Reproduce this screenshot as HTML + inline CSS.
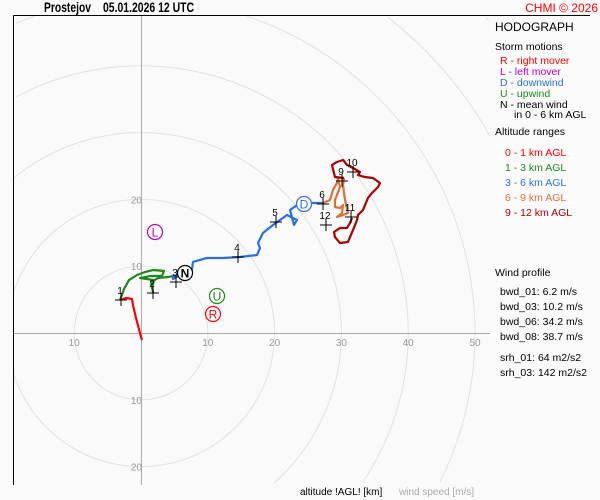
<!DOCTYPE html>
<html><head><meta charset="utf-8">
<style>
html,body{margin:0;padding:0;width:600px;height:500px;overflow:hidden;background:#fafafa;}
svg{display:block;font-family:"Liberation Sans",sans-serif;overflow:hidden;}
</style></head>
<body>
<svg id="c" width="600" height="500" viewBox="0 0 600 500">
<rect x="0" y="0" width="600" height="500" fill="#fafafa"/>
<g id="grid"></g>
<line x1="13.5" y1="15.5" x2="590" y2="15.5" stroke="#000"/>
<line x1="13.5" y1="15.5" x2="13.5" y2="485" stroke="#000"/>
<g id="plot"></g>
<text x="44" y="12" font-size="14" font-weight="bold" textLength="47" lengthAdjust="spacingAndGlyphs">Prostejov</text>
<text x="103" y="12" font-size="14" font-weight="bold" textLength="91" lengthAdjust="spacingAndGlyphs">05.01.2026 12 UTC</text>
<text x="598" y="12" font-size="12" fill="#f00" text-anchor="end">CHMI © 2026</text>
<g font-size="10.5">
<text x="495" y="31" font-size="12">HODOGRAPH</text>
<text x="495" y="50">Storm motions</text>
<text x="500" y="64" fill="#f00">R - right mover</text>
<text x="500" y="75" fill="#b0b">L - left mover</text>
<text x="500" y="86" fill="#2a6fe0">D - downwind</text>
<text x="500" y="97" fill="#1a8a1a">U - upwind</text>
<text x="500" y="108">N - mean wind</text>
<text x="514" y="118">in 0 - 6 km AGL</text>
<text x="495" y="135">Altitude ranges</text>
<text x="505" y="156" fill="#f00">0 - 1 km AGL</text>
<text x="505" y="171" fill="#1a8a1a">1 - 3 km AGL</text>
<text x="505" y="186" fill="#2a6fe0">3 - 6 km AGL</text>
<text x="505" y="201" fill="#d9703a">6 - 9 km AGL</text>
<text x="505" y="216" fill="#a00">9 - 12 km AGL</text>
<text x="495" y="276">Wind profile</text>
<text x="500" y="295">bwd_01: 6.2 m/s</text>
<text x="500" y="310">bwd_03: 10.2 m/s</text>
<text x="500" y="325">bwd_06: 34.2 m/s</text>
<text x="500" y="340">bwd_08: 38.7 m/s</text>
<text x="500" y="361">srh_01: 64 m2/s2</text>
<text x="500" y="376">srh_03: 142 m2/s2</text>
</g>
<text x="300" y="495" font-size="10">altitude !AGL! [km]</text>
<text x="399" y="495" font-size="10" fill="#aaa">wind speed [m/s]</text>
</svg>
<script>
const ringSpeeds=[10,20,30,40,50,60,70];
const axisLabels=[10,20,30,40,50];
const layer01=[[0.15,-1.05],[-0.15,0],[-0.75,2.25],[-1.2,4.2],[-1.35,5.1],[-2.25,5.24],[-3.14,4.94]];
const layer13=[[-3.14,4.94],[-2.54,6.59],[-1.8,7.93],[-0.6,8.68],[0.6,9.13],[1.8,9.43],[3.44,9.28],[3.14,8.53],[1.35,8.53],[-0.15,8.23],[1.95,7.93],[1.65,6.74],[1.8,6.14],[1.5,7.6],[2.54,8.23],[4.04,8.38],[5.54,8.68]];
const layer36=[[5.54,8.68],[4.79,8.5],[4.79,8.08],[5.54,8.53],[7.63,9.43],[7.78,10.63],[9.88,11.23],[12.28,11.23],[14.82,11.38],[17.37,11.68],[17.81,12.72],[17.51,13.47],[18.26,14.97],[19.76,16.17],[21.86,17.66],[23.35,16.92],[22.9,16.17],[22.31,18.41],[23.8,19.46],[27.25,19.46]];
const layer69=[[27.25,19.46],[28.29,19.91],[28.74,21.41],[29.34,22.46],[29.49,23.2],[29.79,21.86],[29.04,19.91],[29.04,18.86],[29.79,18.71],[30.24,19.16],[30.09,17.96],[29.34,17.37],[30.24,17.66],[30.99,17.96],[30.54,19.91],[30.24,22.16],[30.39,23.2]];
const layer912=[[30.39,23.2],[29.04,23.35],[28.59,25.15],[29.34,25.6],[30.24,25.9],[30.84,25.15],[31.74,24.7],[32.78,24.1],[32.49,23.65],[33.53,23.35],[34.73,23.2],[35.78,22.46],[35.48,21.86],[34.58,20.96],[33.98,20.21],[33.23,18.41],[32.49,17.66],[32.34,16.92],[31.74,15.42],[31.29,14.37],[30.99,13.62],[29.79,13.47],[29.04,14.37],[28.89,15.12],[29.79,15.72],[30.84,15.72],[31.29,16.47],[31.59,17.22]];
const heightLabels=["1","2","3","4","5","6","9","10","11","12"];
const heightU=[-2.99,1.8,5.24,14.52,20.21,27.25,30.09,31.74,31.44,27.69];
const heightV=[4.94,5.99,7.63,11.38,16.62,19.31,22.75,24.1,17.37,16.17];
const stormLetters=["R","U","L","N","D"];
const stormU=[10.78,11.38,2.1,6.59,24.4];
const stormV=[2.84,5.54,15.12,8.98,19.31];
const stormColors=["#f00","#1a8a1a","#b0b","#000","#2a6fe0"];

const X0=141,Y0=333,S=6.68;
const CL=14,CR=490,CT=16,CB=484;
function sx(u){return X0+u*S;}
function sy(v){return Y0-v*S;}
const NS="http://www.w3.org/2000/svg";
function mk(tag,parent,attrs){const e=document.createElementNS(NS,tag);for(const k in attrs)e.setAttribute(k,attrs[k]);parent.appendChild(e);return e;}
const grid=document.getElementById('grid'),plot=document.getElementById('plot');
ringSpeeds.forEach(s=>{
 const r=s*S;let d='',pen=false;
 for(let a=0;a<=720;a++){
  const t=a/720*2*Math.PI,x=X0+r*Math.cos(t),y=Y0-r*Math.sin(t);
  const inside=x>=CL&&x<=CR&&y>=CT&&y<=CB;
  if(inside){d+=(pen?'L':'M')+x.toFixed(1)+','+y.toFixed(1);pen=true;}else pen=false;
 }
 if(d){
 const c=mk('path',grid,{d:d,fill:'none',stroke:'#e2e2e2','stroke-width':1});
 
 
 }
});
const ax=mk('line',grid,{x1:14,y1:Y0+.5,x2:490,y2:Y0+.5,stroke:'#aaa'});


const ay=mk('line',grid,{x1:X0+.5,y1:16,x2:X0+.5,y2:485,stroke:'#aaa'});


axisLabels.forEach(s=>{
 const t=mk('text',grid,{x:sx(s),y:Y0+13,'font-size':10,fill:'#999','text-anchor':'middle'});t.textContent=s;
 
 
 if(s<=10){const t2=mk('text',grid,{x:sx(-s),y:Y0+13,'font-size':10,fill:'#999','text-anchor':'middle'});t2.textContent=s;
 
 }
 if(s<=20){[s,-s].forEach(v=>{const t3=mk('text',grid,{x:X0+1,y:sy(v)+4,'font-size':10,fill:'#999','text-anchor':'end'});t3.textContent=s;
 
 });}
});
function drawLayer(arr,color,name){
 const p=mk('polyline',plot,{points:arr.map(d=>sx(d[0])+','+sy(d[1])).join(' '),fill:'none',stroke:color,'stroke-width':2.2,'stroke-linejoin':'round'});
 
 
}
drawLayer(layer01,'#f00','trace-0-1km');
drawLayer(layer13,'#1a8a1a','trace-1-3km');
drawLayer(layer36,'#2a6fe0','trace-3-6km');
drawLayer(layer69,'#d9703a','trace-6-9km');
drawLayer(layer912,'#a00','trace-9-12km');
heightLabels.forEach((l,i)=>{
 const x=sx(heightU[i]),y=sy(heightV[i]);
 const g=mk('path',plot,{d:`M${x-6},${y}H${x+6}M${x},${y-6}V${y+6}`,stroke:'#000','stroke-width':1});
 
 
 const t=mk('text',plot,{x:x-1,y:y-6,'font-size':10,'text-anchor':'middle'});t.textContent=l;
 
 
});
stormLetters.forEach((l,i)=>{
 const x=sx(stormU[i]),y=sy(stormV[i]);
 const c=mk('circle',plot,{cx:x,cy:y,r:7.5,fill:'#fff',stroke:stormColors[i],'stroke-width':1.2});
 
 
 const t=mk('text',plot,{x:x,y:y+4.5,'font-size':12,fill:stormColors[i],'text-anchor':'middle','font-weight':l==='N'?'bold':'normal'});t.textContent=l;
 
 
});
</script>
</body></html>
